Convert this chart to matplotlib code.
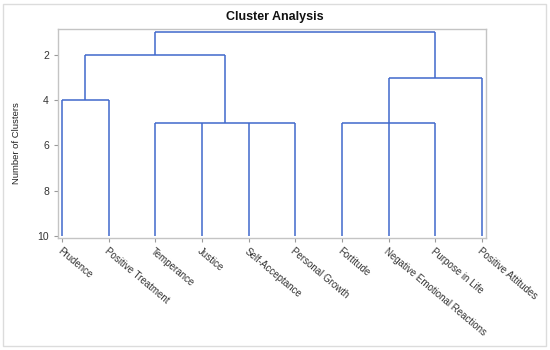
import matplotlib
matplotlib.use("Agg")
import matplotlib.pyplot as plt
from matplotlib.patches import Rectangle

# ------------------------- data -------------------------
LEAVES = [
    "Prudence", "Positive Treatment", "Temperance", "Justice", "Self-Acceptance",
    "Personal Growth", "Fortitude", "Negative Emotional Reactions",
    "Purpose in Life", "Positive Attitudes",
]
N_CLUSTERS_START = 10

# each link: x positions of its children (leaf order, 1-based), the height each
# child's vertical starts from, and the number of clusters where they join
LINK_X = [[1, 2], [3, 4, 5, 6], [1.5, 4.5], [7, 9], [8, 10], [3, 9]]
LINK_FROM = [[10, 10], [10, 10, 10, 10], [4, 5], [10, 10], [10, 10], [2, 3]]
LINK_HEIGHT = [4, 5, 2, 5, 3, 1]

Y_TICKS = [2, 4, 6, 8, 10]

# ------------------------- style -------------------------
LINE_C = "#4068CC"
FRAME_C = "#C4C4C4"
plt.rcParams["font.family"] = ["Liberation Sans", "DejaVu Sans"]

fig = plt.figure(figsize=(5.5, 3.5), dpi=100)
ax = fig.add_axes([58 / 550, 1 - 238 / 350, 428 / 550, 209 / 350])

for xs, y0s, h in zip(LINK_X, LINK_FROM, LINK_HEIGHT):
    ax.plot([min(xs), max(xs)], [h, h], color=LINE_C, lw=1.1, solid_capstyle="butt")
    for x, y0 in zip(xs, y0s):
        ax.plot([x, x], [y0, h], color=LINE_C, lw=1.1, solid_capstyle="butt")

n = len(LEAVES)
ax.set_xlim(0.914, n + 0.086)
ax.set_ylim(N_CLUSTERS_START + 0.09, 0.85)

ax.set_xticks(range(1, n + 1))
ax.set_xticklabels(LEAVES, rotation=-40, ha="left", va="top",
                   rotation_mode="anchor", fontsize=7, color="#333333")
ax.set_yticks(Y_TICKS)
ax.set_yticklabels([str(t) for t in Y_TICKS], fontsize=7.5, color="#333333")
ax.tick_params(axis="both", color="#9a9a9a", length=3, width=0.8)
ax.tick_params(axis="x", pad=3)
for s in ax.spines.values():
    s.set_color(FRAME_C)
    s.set_linewidth(1.0)

fig.text(0.5, 1 - 17 / 350, "Cluster Analysis", ha="center", va="center",
         fontsize=9, fontweight="bold", color="#111111")
fig.text(17 / 550, 1 - 143 / 350, "Number of Clusters", rotation=90,
         ha="center", va="center", fontsize=6.8, color="#222222")

# outer frame of the graph
fig.patches.append(Rectangle((3 / 550, 4 / 350), 543 / 550, 342 / 350,
                             transform=fig.transFigure, fill=False,
                             edgecolor="#DCDCDC", lw=1.0))

fig.savefig("out.png", dpi=100)
